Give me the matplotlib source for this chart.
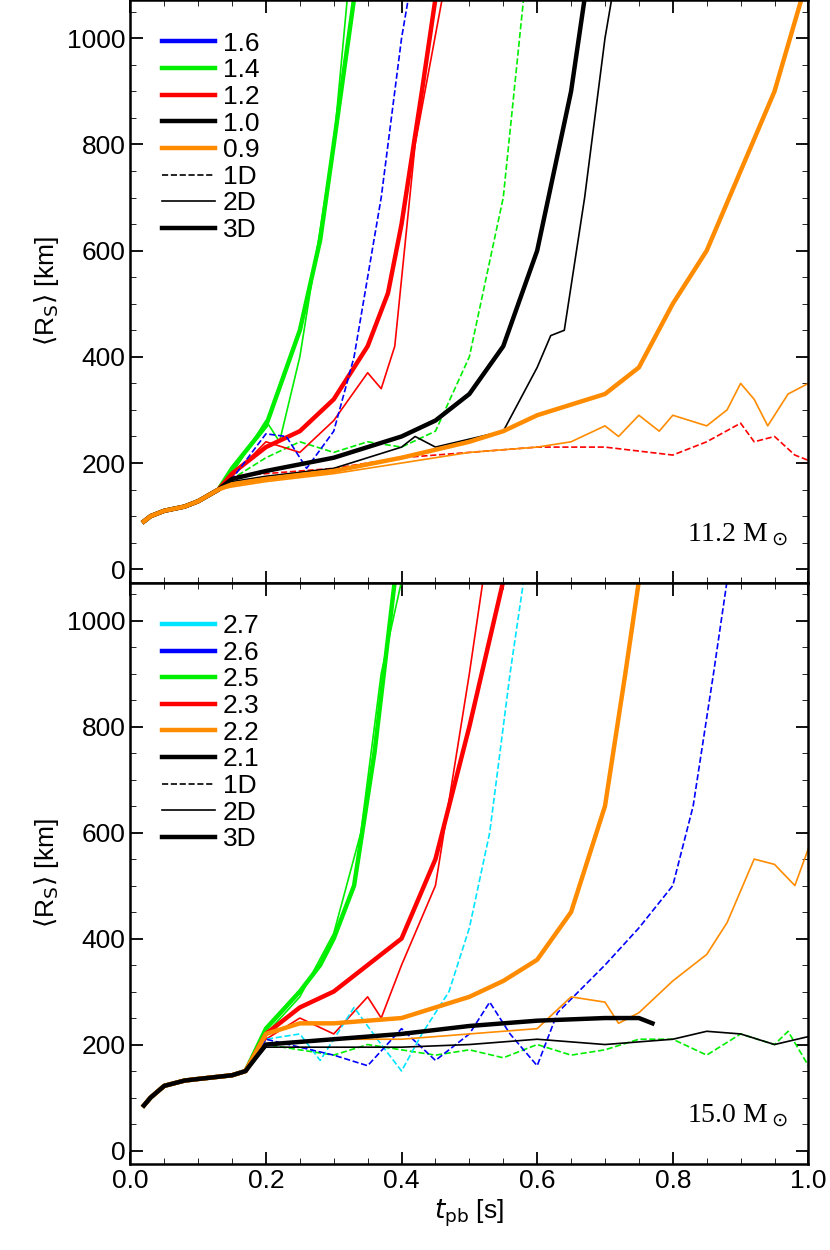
import matplotlib
matplotlib.use("Agg")
import matplotlib.pyplot as plt
from matplotlib.lines import Line2D

plt.rcParams["font.family"] = "Liberation Sans"
plt.rcParams["font.size"] = 19

early = [(0.02, 90), (0.03, 100), (0.05, 110), (0.08, 118), (0.1, 128), (0.13, 150)]

# ---- 11.2 Msun panel: (time, radius) points per curve
top_curves = {
    ("1.4", "3D"): [(0.15, 190), (0.2, 270), (0.25, 450), (0.28, 620), (0.3, 800), (0.33, 1075)],
    ("1.4", "2D"): [(0.15, 180), (0.2, 280), (0.22, 240), (0.25, 400), (0.3, 800), (0.32, 1075)],
    ("1.4", "1D"): [(0.15, 170), (0.2, 210), (0.25, 240), (0.3, 220), (0.35, 240), (0.4, 230),
                    (0.45, 260), (0.5, 400), (0.55, 700), (0.58, 1075)],
    ("1.2", "3D"): [(0.15, 180), (0.2, 230), (0.25, 260), (0.3, 320), (0.35, 420), (0.38, 520),
                    (0.4, 650), (0.43, 900), (0.45, 1075)],
    ("1.2", "2D"): [(0.15, 175), (0.2, 240), (0.25, 220), (0.3, 280), (0.35, 370), (0.37, 340),
                    (0.39, 420), (0.42, 800), (0.46, 1075)],
    ("1.2", "1D"): [(0.15, 175), (0.2, 180), (0.3, 190), (0.4, 210), (0.5, 220), (0.6, 230),
                    (0.7, 230), (0.8, 215), (0.85, 240), (0.9, 275), (0.92, 240), (0.95, 250),
                    (0.98, 215), (1.0, 205)],
    ("1.6", "1D"): [(0.15, 170), (0.2, 255), (0.23, 250), (0.26, 190), (0.3, 260), (0.33, 400),
                    (0.37, 700), (0.4, 1000), (0.41, 1075)],
    ("1.0", "3D"): [(0.15, 170), (0.2, 185), (0.3, 210), (0.4, 250), (0.45, 280), (0.5, 330),
                    (0.55, 420), (0.6, 600), (0.65, 900), (0.67, 1075)],
    ("1.0", "2D"): [(0.15, 165), (0.2, 175), (0.3, 190), (0.4, 230), (0.42, 250), (0.45, 230),
                    (0.5, 245), (0.55, 260), (0.6, 380), (0.62, 440), (0.64, 450), (0.67, 700),
                    (0.7, 1000), (0.71, 1075)],
    ("0.9", "3D"): [(0.15, 160), (0.2, 170), (0.3, 185), (0.4, 210), (0.5, 240), (0.55, 260),
                    (0.6, 290), (0.65, 310), (0.7, 330), (0.75, 380), (0.8, 500), (0.85, 600),
                    (0.9, 750), (0.95, 900), (0.99, 1075)],
    ("0.9", "2D"): [(0.15, 155), (0.2, 165), (0.3, 180), (0.4, 200), (0.5, 220), (0.6, 230),
                    (0.65, 240), (0.7, 270), (0.72, 250), (0.75, 290), (0.78, 260), (0.8, 290),
                    (0.85, 270), (0.88, 300), (0.9, 350), (0.92, 320), (0.94, 270), (0.97, 330),
                    (1.0, 350)],
}
top_labels = ["1.6", "1.4", "1.2", "1.0", "0.9"]
top_colors = {"1.6": "#0000ff", "1.4": "#00ee00", "1.2": "#ff0000", "1.0": "#000000", "0.9": "#ff8c00"}

# ---- 15.0 Msun panel
early2 = [(0.02, 85), (0.03, 100), (0.05, 122), (0.08, 132), (0.1, 135), (0.15, 142), (0.17, 150)]
bot_curves = {
    ("2.5", "3D"): [(0.2, 230), (0.25, 300), (0.28, 350), (0.3, 400), (0.33, 500), (0.36, 750),
                    (0.39, 1075)],
    ("2.5", "2D"): [(0.2, 220), (0.25, 290), (0.3, 410), (0.34, 600), (0.37, 900), (0.4, 1075)],
    ("2.5", "1D"): [(0.2, 200), (0.25, 190), (0.3, 180), (0.35, 200), (0.4, 190), (0.45, 180),
                    (0.5, 190), (0.55, 175), (0.6, 200), (0.65, 180), (0.7, 190), (0.75, 210),
                    (0.8, 210), (0.85, 180), (0.9, 220), (0.95, 200), (0.97, 225), (1.0, 160)],
    ("2.3", "3D"): [(0.2, 220), (0.25, 270), (0.3, 300), (0.35, 350), (0.4, 400), (0.45, 550),
                    (0.5, 800), (0.55, 1075)],
    ("2.3", "2D"): [(0.2, 210), (0.25, 250), (0.3, 220), (0.35, 290), (0.37, 250), (0.4, 350),
                    (0.45, 500), (0.5, 900), (0.52, 1075)],
    ("2.7", "1D"): [(0.2, 210), (0.25, 220), (0.28, 170), (0.33, 270), (0.37, 200), (0.4, 150),
                    (0.43, 220), (0.47, 300), (0.5, 420), (0.53, 600), (0.56, 900), (0.58, 1075)],
    ("2.6", "1D"): [(0.2, 210), (0.3, 180), (0.35, 160), (0.4, 230), (0.45, 170), (0.5, 220),
                    (0.53, 280), (0.56, 220), (0.6, 160), (0.63, 260), (0.7, 350), (0.75, 420),
                    (0.8, 500), (0.83, 650), (0.86, 900), (0.88, 1075)],
    ("2.2", "3D"): [(0.2, 220), (0.25, 240), (0.3, 240), (0.35, 245), (0.4, 250), (0.45, 270),
                    (0.5, 290), (0.55, 320), (0.6, 360), (0.65, 450), (0.7, 650), (0.73, 900),
                    (0.75, 1075)],
    ("2.2", "2D"): [(0.2, 200), (0.3, 210), (0.4, 210), (0.5, 220), (0.6, 230), (0.65, 290),
                    (0.7, 280), (0.72, 240), (0.75, 260), (0.8, 320), (0.85, 370), (0.88, 430),
                    (0.92, 550), (0.95, 540), (0.98, 500), (1.0, 570)],
    ("2.1", "3D"): [(0.2, 200), (0.3, 210), (0.4, 220), (0.5, 235), (0.6, 245), (0.7, 250),
                    (0.75, 250), (0.77, 240)],
    ("2.1", "2D"): [(0.2, 195), (0.3, 195), (0.4, 195), (0.5, 200), (0.6, 210), (0.7, 200),
                    (0.8, 210), (0.85, 225), (0.9, 220), (0.95, 200), (1.0, 215)],
}
bot_labels = ["2.7", "2.6", "2.5", "2.3", "2.2", "2.1"]
bot_colors = {"2.7": "#00e5ff", "2.6": "#0000ff", "2.5": "#00ee00", "2.3": "#ff0000",
              "2.2": "#ff8c00", "2.1": "#000000"}

styles = {"1D": dict(ls="--", lw=1.2), "2D": dict(ls="-", lw=1.2), "3D": dict(ls="-", lw=3.2)}

fig = plt.figure(figsize=(8.3, 12.5), dpi=100)
ax1 = fig.add_axes([0.157, 0.534, 0.817, 0.466])
ax2 = fig.add_axes([0.157, 0.069, 0.817, 0.465])


def draw(ax, curves, labels, colors, start, title):
    for (lab, dim), pts in curves.items():
        pts = start + pts
        ax.plot([p[0] for p in pts], [p[1] for p in pts], color=colors[lab], **styles[dim])
    handles = [Line2D([], [], color=colors[l], lw=3.2) for l in labels]
    handles += [Line2D([], [], color="k", **styles[d]) for d in ["1D", "2D", "3D"]]
    ax.legend(handles, labels + ["1D", "2D", "3D"], loc="upper left", frameon=False,
              handlelength=2.0, labelspacing=0.1, borderaxespad=0.8, fontsize=19,
              handletextpad=0.3)
    ax.set_xlim(0, 1)
    ax.set_ylim(-25, 1072)
    ax.set_yticks([0, 200, 400, 600, 800, 1000])
    ax.set_xticks([0, 0.2, 0.4, 0.6, 0.8, 1.0])
    ax.set_xticks([i * 0.05 for i in range(21)], minor=True)
    ax.set_yticks(range(0, 1100, 50), minor=True)
    ax.tick_params(which="both", direction="in", top=True, right=True)
    ax.tick_params(which="major", length=9, width=1.3)
    ax.tick_params(which="minor", length=4.5)
    for s in ax.spines.values():
        s.set_linewidth(1.8)
    ax.set_ylabel(r"$\langle$R$_\mathrm{S}\rangle$ [km]", fontsize=19)
    ax.text(0.97, 0.06, title, transform=ax.transAxes, ha="right", va="bottom",
            fontsize=20, family="Liberation Serif")


draw(ax1, top_curves, top_labels, top_colors, early, r"11.2 M$_\odot$")
draw(ax2, bot_curves, bot_labels, bot_colors, early2, r"15.0 M$_\odot$")
ax1.set_xticklabels([])
ax2.set_xticklabels(["0.0", "0.2", "0.4", "0.6", "0.8", "1.0"])
ax2.set_xlabel(r"$t_\mathrm{pb}$ [s]", fontsize=19)

fig.savefig("out.png", dpi=100)
